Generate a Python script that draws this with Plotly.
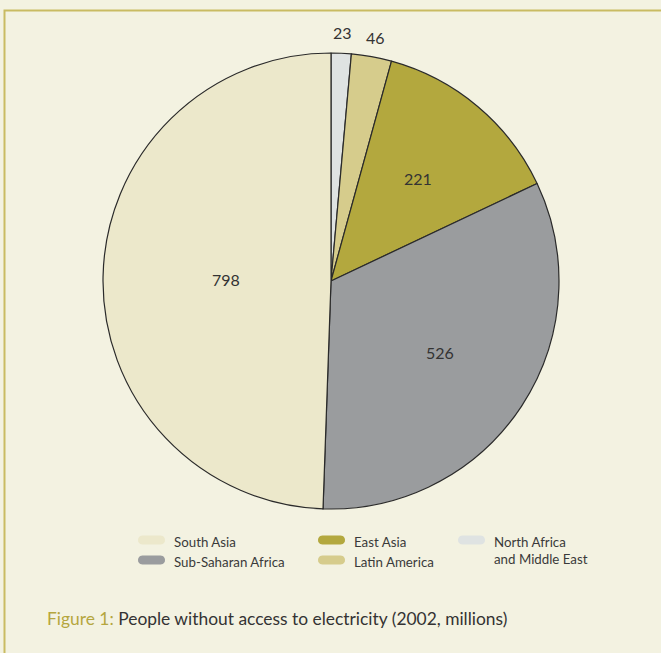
import math
import plotly.graph_objects as go

regions = ["North Africa<br>and Middle East", "Latin America", "East Asia", "Sub-Saharan Africa", "South Asia"]
values = [23, 46, 221, 526, 798]
colors = ["#dfe3e2", "#d6cc8c", "#b3a83e", "#9a9c9e", "#ece8cb"]

# label distance from centre, as a fraction of the pie radius (style)
label_r = [1.09, 1.085, 0.59, 0.57, 0.46]

# legend layout (order as in reference)
legend_order = ["South Asia", "Sub-Saharan Africa", "East Asia", "Latin America", "North Africa<br>and Middle East"]

W, H = 661, 653
BG = "#f3f2e1"
FONT = "Lato"
CX, CY, R = 331, 281, 228

fig = go.Figure(go.Pie(
    values=values,
    labels=regions,
    marker=dict(colors=colors, line=dict(color="#2a2a2a", width=1.2)),
    sort=False,
    direction="clockwise",
    rotation=0,
    textinfo="none",
    showlegend=False,
    hoverinfo="label+value",
    domain=dict(x=[(CX - R) / W, (CX + R) / W], y=[1 - (CY + R) / H, 1 - (CY - R) / H]),
))

shapes = [dict(type="rect", xref="paper", yref="paper",
               x0=4.5 / W, x1=1.2, y0=-0.2, y1=1 - 10.5 / H,
               line=dict(color="#c9bb62", width=2), fillcolor="rgba(0,0,0,0)")]
annotations = []

# value labels placed at each slice's mid-angle
total = sum(values)
cum = 0
for v, rf in zip(values, label_r):
    mid = (cum + v / 2) / total * 2 * math.pi
    cum += v
    x = CX + rf * R * math.sin(mid)
    y = CY - rf * R * math.cos(mid)
    annotations.append(dict(text=str(v), xref="paper", yref="paper",
                            x=x / W, y=1 - y / H, xanchor="center", yanchor="middle",
                            showarrow=False,
                            font=dict(family=FONT, size=16, color="#333333")))

# legend positions (pixels)
leg_pos = {
    "South Asia": (138, 540),
    "Sub-Saharan Africa": (138, 560),
    "East Asia": (318, 540),
    "Latin America": (318, 560),
    "North Africa<br>and Middle East": (458, 540),
}

def pill(x0, yc, w=27, h=9):
    r = h / 2
    pts = []
    for i in range(13):
        a = math.pi / 2 + math.pi * i / 12
        pts.append((x0 + r + r * math.cos(a), yc - r * math.sin(a)))
    for i in range(13):
        a = -math.pi / 2 + math.pi * i / 12
        pts.append((x0 + w - r + r * math.cos(a), yc - r * math.sin(a)))
    return "M " + " L ".join(f"{x / W:.5f},{1 - y / H:.5f}" for x, y in pts) + " Z"

for name in legend_order:
    i = regions.index(name)
    x0, yc = leg_pos[name]
    shapes.append(dict(type="path", xref="paper", yref="paper", path=pill(x0, yc),
                       fillcolor=colors[i], line=dict(width=0)))
    annotations.append(dict(text=name, xref="paper", yref="paper",
                            x=(x0 + 34) / W, y=1 - (yc - 8.5) / H,
                            xanchor="left", yanchor="top", align="left",
                            showarrow=False,
                            font=dict(family=FONT, size=13.3, color="#3a3a3a")))

annotations.append(dict(
    text="<span style='color:#b5a63e'>Figure 1:</span> People without access to electricity (2002, millions)",
    xref="paper", yref="paper", x=45 / W, y=1 - 618 / H, xanchor="left", yanchor="middle",
    showarrow=False, font=dict(family=FONT, size=17.4, color="#333333")))

fig.update_layout(
    width=W, height=H,
    margin=dict(l=0, r=0, t=0, b=0),
    paper_bgcolor=BG, plot_bgcolor=BG,
    shapes=shapes, annotations=annotations,
)

fig.write_html("out.html")
